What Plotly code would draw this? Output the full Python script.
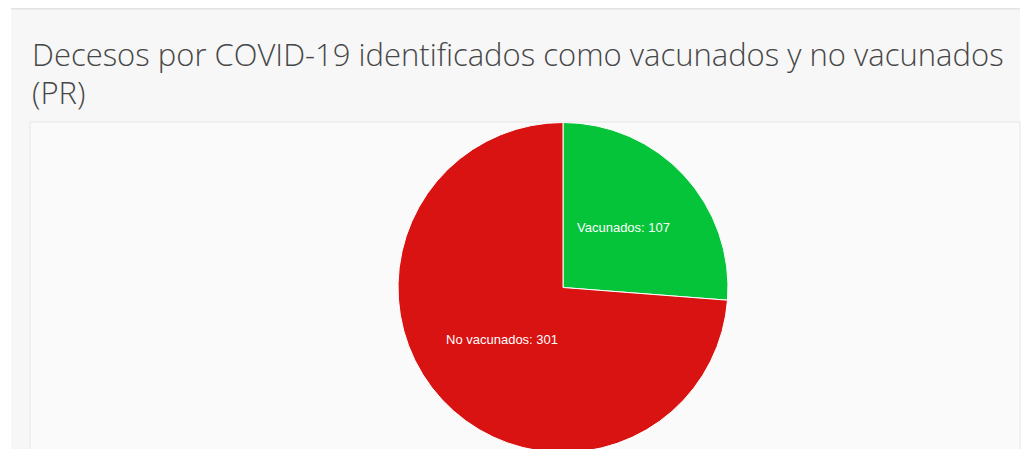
import math
import plotly.graph_objects as go

categories = ["Vacunados", "No vacunados"]
values = [107, 301]
colors = ["#05c43a", "#d91212"]
title_lines = ["Decesos por COVID-19 identificados como vacunados y no vacunados", "(PR)"]

OFF = 8            # default body margin of the html page
W, H = 1026, 449   # figure size (page is 1034 wide, figure starts at x=8)
R = 165
cx, cy = 563 - OFF, 287.5 - OFF   # pie centre in figure px (from left/top)


def px(x):
    return x / W


def py(y):
    return (H - y) / H


fig = go.Figure()
fig.add_trace(go.Pie(
    labels=categories,
    values=values,
    sort=False,
    direction="clockwise",
    rotation=0,
    marker=dict(colors=colors, line=dict(color="#ffffff", width=1)),
    textinfo="none",
    showlegend=False,
    hoverinfo="label+value",
    domain=dict(x=[px(cx - R), px(cx + R)], y=[py(cy + R), py(cy - R)]),
))

# slice labels, placed at the middle angle of each slice
total = sum(values)
annotations = []
start = 0.0
for lab, v in zip(categories, values):
    mid = (start + v / 2) / total * 2 * math.pi
    start += v
    r = 0.5 * R
    lx = cx + r * math.sin(mid)
    ly = cy - r * math.cos(mid) - 4
    annotations.append(dict(
        text=f"{lab}: {v}", xref="paper", yref="paper", x=px(lx), y=py(ly),
        xanchor="center", yanchor="middle", showarrow=False,
        font=dict(family="Liberation Sans, Arial, sans-serif", size=13, color="#ffffff"),
    ))

for i, line in enumerate(title_lines):
    annotations.append(dict(
        text=line,
        xref="paper", yref="paper", x=px(22), y=py(46 + 38 * i),
        xanchor="left", yanchor="middle", align="left", showarrow=False,
        font=dict(family="Open Sans, sans-serif", size=31, color="#474747", weight=300),
    ))

shapes = [
    dict(type="rect", xref="paper", yref="paper", x0=px(11 - OFF), x1=px(1020 - OFF), y0=0, y1=py(9 - OFF),
         fillcolor="#f7f7f7", line=dict(width=0), layer="below"),
    dict(type="line", xref="paper", yref="paper", x0=px(11 - OFF), x1=px(1020 - OFF),
         y0=py(8.5 - OFF), y1=py(8.5 - OFF), line=dict(color="#e3e3e3", width=2), layer="below"),
    dict(type="rect", xref="paper", yref="paper", x0=px(30 - OFF), x1=px(1020 - OFF), y0=0, y1=py(122 - OFF),
         fillcolor="#fafafa", line=dict(color="#ededed", width=1.5), layer="below"),
]

fig.update_layout(
    width=W, height=H,
    margin=dict(l=0, r=0, t=0, b=0),
    paper_bgcolor="#ffffff",
    plot_bgcolor="#ffffff",
    shapes=shapes,
    annotations=annotations,
)

fig.write_html("out.html")
